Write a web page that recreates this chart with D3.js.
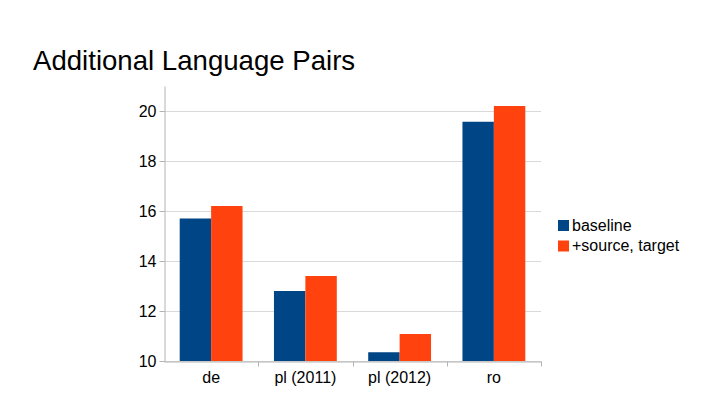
<!DOCTYPE html>
<html><head><meta charset="utf-8">
<script src="https://cdn.jsdelivr.net/npm/d3@7"></script>
<style>body{margin:0;background:#fff}svg{display:block}</style>
</head><body>
<svg id="c" width="720" height="405"></svg>
<script>
const categories = ["de", "pl (2011)", "pl (2012)", "ro"];
const seriesNames = ["baseline", "+source, target"];
const baseline = [15.7, 12.8, 10.35, 19.57];
const sourceTarget = [16.2, 13.4, 11.08, 20.2];
const yTicks = [10, 12, 14, 16, 18, 20];
const colors = ["#004586", "#ff420e"];

const svg = d3.select("#c");
const font = "'Liberation Sans', Arial, sans-serif";
const L = 164, R = 541, T = 86, B = 361;

svg.append("text").attr("x", 33).attr("y", 70).attr("font-family", font)
  .attr("font-size", 27.6).attr("fill", "#000").text("Additional Language Pairs");

const x = d3.scaleBand().domain(categories).range([L, R]);
const y = d3.scaleLinear().domain([10, 21]).range([B, T]);
const xs = d3.scaleBand().domain(seriesNames).range([0, x.bandwidth()]).paddingOuter(0.5).paddingInner(0);

// gridlines
svg.append("g").selectAll("line").data(yTicks).join("line")
  .attr("x1", L).attr("x2", R).attr("y1", d => y(d) + 0.5).attr("y2", d => y(d) + 0.5)
  .attr("stroke", "#d9d9d9").attr("stroke-width", 1);

const data = [baseline, sourceTarget];
data.forEach((vals, si) => {
  svg.append("g").selectAll("rect").data(categories).join("rect")
    .attr("x", c => x(c) + xs(seriesNames[si]))
    .attr("width", xs.bandwidth())
    .attr("y", (c, i) => y(vals[i]))
    .attr("height", (c, i) => y(10) - y(vals[i]))
    .attr("fill", colors[si]);
});

// y axis
const ya = svg.append("g").attr("transform", `translate(${L + 0.5},0)`)
  .call(d3.axisLeft(y).tickValues(yTicks).tickSize(5).tickPadding(3).tickSizeOuter(0));
ya.select(".domain").attr("stroke", "#b3b3b3");
ya.selectAll(".tick line").attr("stroke", "#b3b3b3");
ya.selectAll("text").attr("font-family", font).attr("font-size", 16).attr("fill", "#000");

// x axis
const xa = svg.append("g").attr("transform", `translate(0,${B + 0.5})`)
  .call(d3.axisBottom(x).tickSize(0).tickPadding(10).tickSizeOuter(0));
xa.select(".domain").attr("stroke", "#b3b3b3");
xa.selectAll("text").attr("font-family", font).attr("font-size", 16).attr("fill", "#000");
xa.append("g").selectAll("line").data(categories.slice(1).concat([null])).join("line")
  .attr("x1", (c, i) => Math.round(L + x.step() * (i + 1)) + 0.5)
  .attr("x2", (c, i) => Math.round(L + x.step() * (i + 1)) + 0.5)
  .attr("y1", 0).attr("y2", 5).attr("stroke", "#b3b3b3");

// legend
const lg = svg.append("g");
seriesNames.forEach((n, i) => {
  lg.append("rect").attr("x", 558).attr("y", 220 + i * 20.5).attr("width", 11).attr("height", 11).attr("fill", colors[i]);
  lg.append("text").attr("x", 572).attr("y", 230.5 + i * 20.5).attr("font-family", font)
    .attr("font-size", 16).attr("fill", "#000").text(n);
});
</script>
</body></html>
